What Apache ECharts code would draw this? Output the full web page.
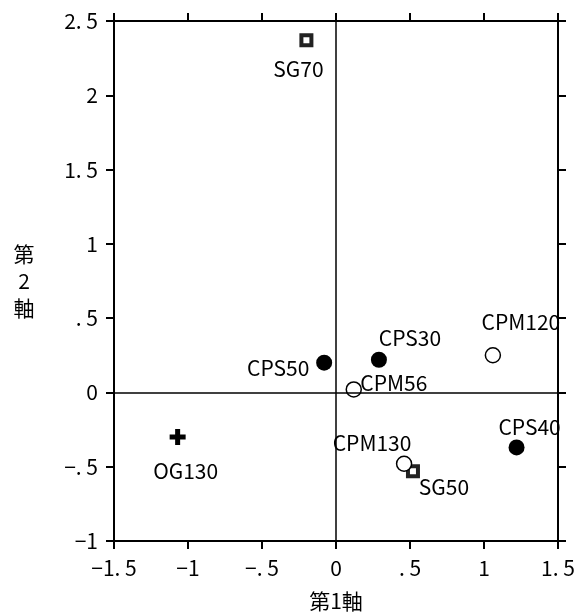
<!DOCTYPE html>
<html><head><meta charset="utf-8">
<script src="https://cdn.jsdelivr.net/npm/echarts@6/dist/echarts.min.js"></script>
<style>html,body{margin:0;padding:0;background:#fff}#c{width:576px;height:614px}</style>
</head><body><div id="c"></div>
<script>
// ---- data ----
const names = ['SG70','SG50','CPM130','CPS40','CPS50','CPS30','CPM120','CPM56','OG130'];
const xs    = [-0.20, 0.52, 0.46, 1.22, -0.08, 0.29, 1.06, 0.12, -1.07];
const ys    = [ 2.37,-0.53,-0.48,-0.37,  0.20, 0.22, 0.25, 0.02, -0.30];
const kinds = ['SG','SG','CPM','CPS','CPS','CPS','CPM','CPM','OG'];
const xTickValues = [-1.5,-1,-0.5,0,0.5,1,1.5];
const xTickLabels = ['−1. 5','−1','−. 5','0','. 5','1','1. 5'];
const yTickValues = [-1,-0.5,0,0.5,1,1.5,2,2.5];
const yTickLabels = ['−1','−. 5','0','. 5','1','1. 5','2','2. 5'];
const xTitle = '第1軸';
const yTitle = '第\n2\n軸';

// ---- styles ----
const FONT = '"Noto Sans CJK JP", sans-serif';
const FS = 21;
const labelOffsets = {
  SG70:[-8,29], SG50:[31,16], CPM130:[-32,-21], CPS40:[13,-20], CPS50:[-46,5],
  CPS30:[31,-22], CPM120:[28,-33], CPM56:[40,-6], OG130:[8,34]
};
const kindStyle = {
  SG:  {symbol:'rect', symbolSize:10, itemStyle:{color:'#fff', borderColor:'#222', borderWidth:4, opacity:1}},
  CPM: {symbol:'circle', symbolSize:15, itemStyle:{color:'#fff', borderColor:'#000', borderWidth:1.5, opacity:1}},
  CPS: {symbol:'circle', symbolSize:16, itemStyle:{color:'#000', opacity:1}},
  OG:  {symbol:'path://M5.5,0H10.5V5.5H16V10.5H10.5V16H5.5V10.5H0V5.5H5.5Z', symbolSize:16, itemStyle:{color:'#000', opacity:1}}
};

function fmt(values, labels){ return v => { const i = values.findIndex(t => Math.abs(t - v) < 1e-9); return i >= 0 ? labels[i] : ''; }; }

const data = names.map((n,i) => {
  const k = kindStyle[kinds[i]];
  return {
    name: n, value: [xs[i], ys[i]],
    symbol: k.symbol, symbolSize: k.symbolSize, itemStyle: k.itemStyle,
    label: {show:true, position:'inside', offset: labelOffsets[n], formatter: n,
            color:'#000', fontSize:FS, fontFamily: FONT, align:'center', verticalAlign:'middle'}
  };
});

const lineStyle = {color:'#000', width:2};
const baseX = {type:'value', min:-1.5, max:1.5, interval:0.5, splitLine:{show:false},
  axisLine:{show:true, onZero:false, lineStyle}, axisTick:{show:true, length:8, lineStyle}};
const baseY = {type:'value', min:-1, max:2.5, interval:0.5, splitLine:{show:false},
  axisLine:{show:true, onZero:false, lineStyle}, axisTick:{show:true, length:8, lineStyle}};

const chart = echarts.init(document.getElementById('c'), null, {renderer:'canvas'});
chart.setOption({
  animation:false,
  backgroundColor:'#fff',
  grid:{left:114, right:18, top:21, bottom:73, containLabel:false, outerBoundsMode:'none'},
  xAxis:[
    Object.assign({}, baseX, {position:'bottom', name:xTitle, nameLocation:'middle', nameGap:50,
      nameTextStyle:{color:'#000', fontSize:FS, fontFamily:FONT},
      axisLabel:{show:true, margin:17, color:'#000', fontSize:FS, fontFamily:FONT, formatter: fmt(xTickValues,xTickLabels)}}),
    Object.assign({}, baseX, {position:'top', axisLabel:{show:false}})
  ],
  yAxis:[
    Object.assign({}, baseY, {position:'left', name:yTitle, nameLocation:'middle', nameGap:90, nameRotate:0,
      nameTextStyle:{color:'#000', fontSize:FS, fontFamily:FONT, lineHeight:27, align:'center'},
      axisLabel:{show:true, margin:16, color:'#000', fontSize:FS, fontFamily:FONT, formatter: fmt(yTickValues,yTickLabels)}}),
    Object.assign({}, baseY, {position:'right', axisLabel:{show:false}})
  ],
  series:[{
    type:'scatter', xAxisIndex:0, yAxisIndex:0, data: data, z:3,
    markLine:{silent:true, symbol:['none','none'], label:{show:false}, animation:false,
      lineStyle:{color:'#000', width:1.5, type:'solid'},
      data:[{xAxis:0},{yAxis:0}]}
  }]
});
</script></body></html>
